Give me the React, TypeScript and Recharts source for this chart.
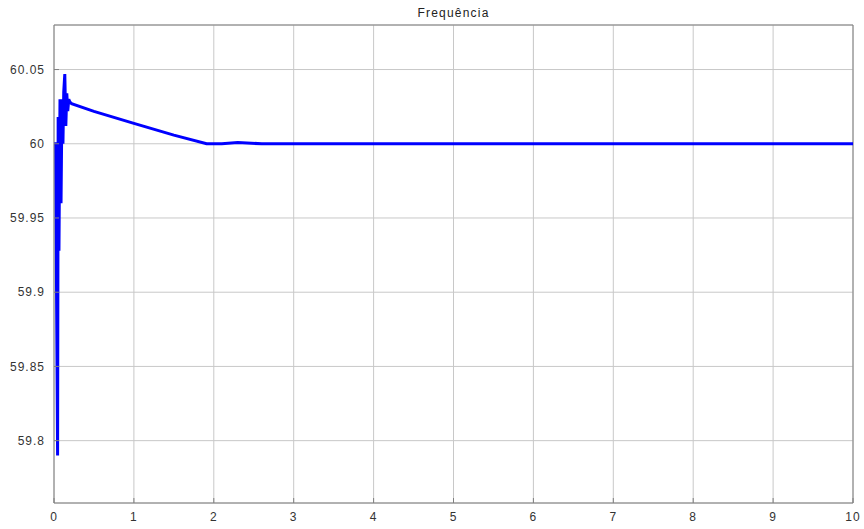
import { CartesianGrid, Line, LineChart, ReferenceLine, XAxis, YAxis } from 'recharts';

// Simulated frequency response (Hz) vs time (s)
const time = [0, 0.02, 0.045, 0.052, 0.062, 0.075, 0.088, 0.1, 0.112, 0.122, 0.135, 0.148, 0.16, 0.172, 0.185, 0.2, 0.22, 0.5, 1.0, 1.5, 1.91, 2.1, 2.3, 2.6, 3, 4, 5, 6, 7, 8, 9, 10];
const freq = [60.0, 60.0, 59.79, 60.018, 59.928, 60.03, 59.96, 60.03, 60.0, 60.035, 60.047, 60.012, 60.034, 60.022, 60.03, 60.028, 60.027, 60.0218, 60.0137, 60.0058, 60.0, 60.0, 60.0008, 60.0, 60.0, 60.0, 60.0, 60.0, 60.0, 60.0, 60.0, 60.0];

const xTicks = [0, 1, 2, 3, 4, 5, 6, 7, 8, 9, 10];
const yTicks = [59.8, 59.85, 59.9, 59.95, 60, 60.05];
const yDomain = [59.758, 60.08];

const data = time.map((t, i) => ({ t, f: freq[i] }));

const axisColor = '#808080';
const gridColor = '#c8c8c8';
const tickStyle = { fontSize: 12, fill: '#333', fontFamily: 'Liberation Sans, Arial, sans-serif', letterSpacing: 1 };

const fmt = (v: number) => String(Number(v.toFixed(2)));

export default function App() {
  return (
    <div style={{ position: 'absolute', left: 0, top: 0, width: 864, height: 529, background: '#fff' }}>
      <div
        style={{
          position: 'absolute', left: 54, width: 799, top: 6, textAlign: 'center',
          fontSize: 12, letterSpacing: 1.2, color: '#222', fontFamily: 'Liberation Sans, Arial, sans-serif',
        }}
      >
        Frequência
      </div>
      <LineChart width={864} height={529} data={data} margin={{ top: 25, right: 11, bottom: 0, left: 0 }}>
        <CartesianGrid stroke={gridColor} />
        <XAxis
          dataKey="t" type="number" domain={[0, 10]} ticks={xTicks} height={26}
          stroke={axisColor} tickSize={-5} tickMargin={14} tick={tickStyle} allowDataOverflow
        />
        <XAxis
          xAxisId="top" orientation="top" type="number" domain={[0, 10]} ticks={xTicks} height={0}
          stroke={axisColor} tickSize={-5} tick={false}
        />
        <YAxis
          type="number" domain={yDomain} ticks={yTicks} width={54} tickFormatter={fmt}
          stroke={axisColor} tickSize={-5} tickMargin={14} tick={tickStyle} allowDataOverflow
        />
        <YAxis
          yAxisId="right" orientation="right" type="number" domain={yDomain} ticks={yTicks} width={0}
          stroke={axisColor} tickSize={-5} tick={false} allowDataOverflow
        />
        <ReferenceLine x={10} stroke={axisColor} />
        <ReferenceLine y={yDomain[1]} stroke={axisColor} />
        <Line
          dataKey="f" type="linear" stroke="#0000ff" strokeWidth={3} dot={false}
          isAnimationActive={false}
        />
      </LineChart>
    </div>
  );
}
